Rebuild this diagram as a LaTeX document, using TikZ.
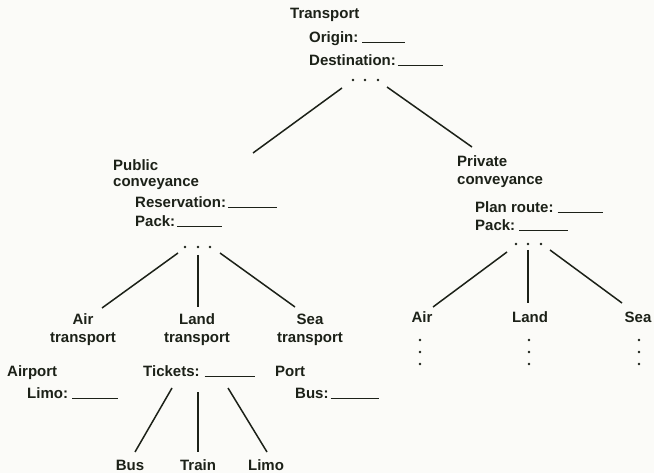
\documentclass[tikz,border=0pt]{standalone}
\usepackage{fontspec}
\setmainfont{Liberation Sans}
\definecolor{ink}{HTML}{1C2118}
\definecolor{paper}{HTML}{FBFBF8}
\newcommand\blankline[1]{\rule{#1pt}{1.4pt}}
\begin{document}
\begin{tikzpicture}[x=1pt,y=-1pt,
  txt/.style={inner sep=0pt, anchor=base west, font=\fontsize{15}{17}\selectfont\bfseries, text=ink},
  ctxt/.style={txt, anchor=base},
  link/.style={draw=ink, line width=1.5pt},
  dotmark/.style={circle, fill=ink, inner sep=0pt, minimum size=2.8pt}]
\fill[paper] (0,0) rectangle (654,473);
\useasboundingbox (0,0) rectangle (654,473);

% top node
\node[txt] (transport) at (290,19) {Transport};
\node[txt] (origin) at (309,43) {Origin:\hspace{4pt}\blankline{43}};
\node[txt] (dest) at (309,66) {Destination:\hspace{2pt}\blankline{45}};
\node[dotmark] (td1) at (353,80) {};
\node[dotmark] (td2) at (365,80) {};
\node[dotmark] (td3) at (378,80) {};

% public conveyance
\node[txt] (public) at (113,171) {Public};
\node[txt] (pubconv) at (113,187) {conveyance};
\node[txt] (reserv) at (135,208) {Reservation:\hspace{2pt}\blankline{49}};
\node[txt] (pubpack) at (135,227) {Pack:\hspace{2pt}\blankline{45}};
\node[dotmark] (pd1) at (185,247) {};
\node[dotmark] (pd2) at (198,247) {};
\node[dotmark] (pd3) at (210,247) {};

% private conveyance
\node[txt] (private) at (457,167) {Private};
\node[txt] (privconv) at (457,185) {conveyance};
\node[txt] (planroute) at (475,213) {Plan route:\hspace{4pt}\blankline{45}};
\node[txt] (privpack) at (475,231) {Pack:\hspace{4pt}\blankline{49}};
\node[dotmark] (qd1) at (516,244) {};
\node[dotmark] (qd2) at (528,244) {};
\node[dotmark] (qd3) at (541,244) {};

% public children
\node[ctxt] (air) at (83,325) {Air};
\node[ctxt] (airt) at (83,343) {transport};
\node[ctxt] (land) at (197,325) {Land};
\node[ctxt] (landt) at (197,343) {transport};
\node[ctxt] (sea) at (310,325) {Sea};
\node[ctxt] (seat) at (310,343) {transport};

\node[txt] (airport) at (7,377) {Airport};
\node[txt] (limo) at (27,399) {Limo:\hspace{4pt}\blankline{46}};
\node[txt] (tickets) at (143,377) {Tickets:\hspace{5pt}\blankline{50}};
\node[txt] (port) at (275,377) {Port};
\node[txt] (busf) at (295,399) {Bus:\hspace{2pt}\blankline{48}};

\node[ctxt] (bus) at (130,470) {Bus};
\node[ctxt] (train) at (198,470) {Train};
\node[ctxt] (limocar) at (266,470) {Limo};

% private children
\node[ctxt] (pair) at (422,323) {Air};
\node[ctxt] (pland) at (530,323) {Land};
\node[ctxt] (psea) at (638,323) {Sea};
\foreach \x/\n in {420/a,529/l,639/s}{
  \node[dotmark] (v\n1) at (\x,340) {};
  \node[dotmark] (v\n2) at (\x,352) {};
  \node[dotmark] (v\n3) at (\x,364) {};
}

% connector end points
\coordinate (t1) at (342,88);  \coordinate (t1e) at (253,153);
\coordinate (t2) at (387,87);  \coordinate (t2e) at (472,147);
\coordinate (p1) at (178,253); \coordinate (p1e) at (102,308);
\coordinate (p2) at (198,255); \coordinate (p2e) at (198,307);
\coordinate (p3) at (220,253); \coordinate (p3e) at (295,307);
\coordinate (q1) at (507,252); \coordinate (q1e) at (433,307);
\coordinate (q2) at (528,250); \coordinate (q2e) at (528,303);
\coordinate (q3) at (550,250); \coordinate (q3e) at (622,303);
\coordinate (k1) at (172,388); \coordinate (k1e) at (135,452);
\coordinate (k2) at (198,392); \coordinate (k2e) at (198,452);
\coordinate (k3) at (228,388); \coordinate (k3e) at (267,452);

\foreach \a in {t1,t2,p1,p2,p3,q1,q2,q3,k1,k2,k3}{
  \draw[link] (\a) -- (\a e);
}
\end{tikzpicture}
\end{document}
